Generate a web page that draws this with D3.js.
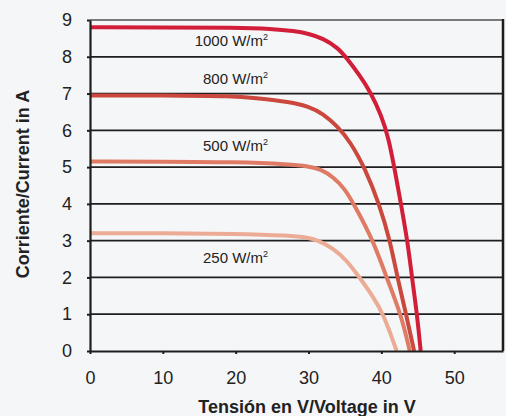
<!DOCTYPE html>
<html>
<head>
<meta charset="utf-8">
<script src="https://cdn.jsdelivr.net/npm/d3@7"></script>
<style>
  body { margin: 0; background: #f5f6f8; }
  svg { display: block; font-family: "Liberation Sans", Arial, sans-serif; }
</style>
</head>
<body>
<svg></svg>
<script>
// I-V curves at four irradiance levels
const irradiance = ['1000', '800', '500', '250'];
const colors = ['#d21e38', '#ca483d', '#df7b65', '#ecab95'];

const v1000 = [0, 10, 20, 25, 28, 30, 32, 34, 35.3, 37, 38.5, 40, 41, 42.1, 43.6, 44.2, 44.9, 45.4];
const i1000 = [8.8, 8.8, 8.79, 8.76, 8.7, 8.63, 8.5, 8.25, 7.95, 7.5, 7.05, 6.4, 5.8, 4.65, 3, 2, 1, 0];

const v800 = [0, 10, 20, 22.4, 27.5, 30, 32, 34, 35.7, 37.8, 39.7, 41.2, 42.2, 43.4, 44.5];
const i800 = [6.95, 6.95, 6.93, 6.88, 6.77, 6.65, 6.45, 6.1, 5.7, 4.95, 4, 3, 2, 1, 0];

const v500 = [0, 10, 20, 27.5, 30, 31.6, 33.5, 35, 36.2, 38.9, 40.7, 42.7, 43.9];
const i500 = [5.15, 5.15, 5.14, 5.08, 5.02, 4.95, 4.72, 4.4, 4, 3, 2, 1, 0];

const v250 = [0, 10, 20, 27.5, 30, 31.1, 33.4, 35.3, 37, 38.8, 40.3, 42.1];
const i250 = [3.2, 3.2, 3.19, 3.14, 3.08, 3.02, 2.8, 2.45, 2, 1.5, 1, 0];

const xTicks = [0, 10, 20, 30, 40, 50];
const yTicks = [0, 1, 2, 3, 4, 5, 6, 7, 8, 9];
const labelY = [8.3, 7.25, 5.45, 2.4];

const w = 506;
const h = 416;
const pLeft = 90, pRight = 503, pTop = 20, pBottom = 351;

let svg = d3.select('svg')
  .attr('width', w)
  .attr('height', h);

let xScale = d3.scaleLinear().domain([0, 56.7]).range([pLeft, pRight]);
let yScale = d3.scaleLinear().domain([0, 9]).range([pBottom, pTop]);

// horizontal grid
svg.append('g')
  .selectAll('line')
  .data(yTicks.slice(1))
  .enter()
  .append('line')
  .attr('x1', pLeft)
  .attr('x2', pRight)
  .attr('y1', d => yScale(d))
  .attr('y2', d => yScale(d))
  .attr('stroke', d => d === 9 ? '#7a7a7a' : '#1e1e1e')
  .attr('stroke-width', 1.8);

// right frame
svg.append('line')
  .attr('x1', pRight).attr('x2', pRight)
  .attr('y1', yScale(9) - 1).attr('y2', pBottom)
  .attr('stroke', '#1e1e1e')
  .attr('stroke-width', 2.5);

let curves = [
  d3.zip(v1000, i1000),
  d3.zip(v800, i800),
  d3.zip(v500, i500),
  d3.zip(v250, i250)
];

let line = d3.line()
  .x(d => xScale(d[0]))
  .y(d => yScale(d[1]))
  .curve(d3.curveBasis);

svg.append('g')
  .selectAll('path')
  .data(curves)
  .enter()
  .append('path')
  .attr('d', line)
  .attr('fill', 'none')
  .attr('stroke', (d, i) => colors[i])
  .attr('stroke-width', 4)
  .attr('stroke-linecap', 'butt');

// axes
let xAxis = d3.axisBottom(xScale)
  .tickValues(xTicks)
  .tickSize(3)
  .tickSizeOuter(0)
  .tickPadding(17);

let gx = svg.append('g')
  .attr('transform', `translate(0, ${pBottom})`)
  .call(xAxis);

let yAxis = d3.axisLeft(yScale)
  .tickValues(yTicks)
  .tickSize(3)
  .tickSizeOuter(0)
  .tickPadding(15);

let gy = svg.append('g')
  .attr('transform', `translate(${pLeft}, 0)`)
  .call(yAxis);

[gx, gy].forEach(g => {
  g.select('.domain').attr('stroke', '#1e1e1e').attr('stroke-width', 2.2);
  g.selectAll('.tick line').attr('stroke', '#1e1e1e').attr('stroke-width', 2);
  g.selectAll('.tick text')
    .attr('fill', '#222')
    .style('font-size', '18px')
    .style('font-family', '"Liberation Sans", Arial, sans-serif');
});

// irradiance labels
let labels = svg.append('g')
  .selectAll('text')
  .data(irradiance)
  .enter()
  .append('text')
  .attr('x', 268)
  .attr('y', (d, i) => yScale(labelY[i]))
  .attr('text-anchor', 'end')
  .attr('fill', '#222')
  .style('font-size', '15px');

labels.append('tspan').text(d => d + ' W/m');
labels.append('tspan')
  .text('2')
  .attr('dy', -6)
  .style('font-size', '9px');

// axis titles
svg.append('text')
  .attr('x', 307)
  .attr('y', 413)
  .attr('text-anchor', 'middle')
  .attr('fill', '#222')
  .style('font-size', '18px')
  .style('font-weight', 'bold')
  .text('Tensión en V/Voltage in V');

svg.append('text')
  .attr('transform', `translate(29, 184) rotate(-90)`)
  .attr('text-anchor', 'middle')
  .attr('fill', '#222')
  .style('font-size', '18px')
  .style('font-weight', 'bold')
  .text('Corriente/Current in A');
</script>
</body>
</html>
